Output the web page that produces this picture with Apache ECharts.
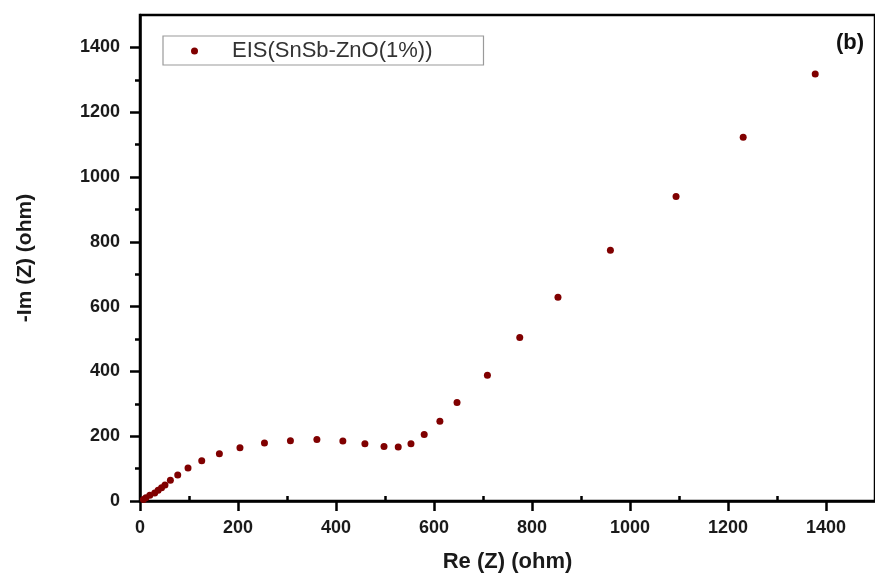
<!DOCTYPE html>
<html>
<head>
<meta charset="utf-8">
<script src="https://cdn.jsdelivr.net/npm/echarts@6/dist/echarts.min.js"></script>
<style>html,body{margin:0;padding:0;background:#fff;}#c{width:875px;height:578px;}</style>
</head>
<body>
<div id="c"></div>
<script>
// Data (Nyquist plot)
const reZ = [7, 12, 20, 30, 37, 44, 51, 62, 77, 98, 126, 162, 204, 254, 307, 361, 414, 459, 498, 527, 553, 580, 612, 647, 709, 775, 853, 960, 1094, 1231, 1378];
const imZ = [5, 10, 18, 25, 33, 41, 49, 64, 80, 102, 124, 146, 164, 179, 186, 190, 185, 177, 168, 167, 177, 205, 246, 304, 388, 505, 629, 774, 940, 1123, 1318];
const xTicks = [0, 200, 400, 600, 800, 1000, 1200, 1400];
const yTicks = [0, 200, 400, 600, 800, 1000, 1200, 1400];
const xMinorTicks = [100, 300, 500, 700, 900, 1100, 1300];
const yMinorTicks = [100, 300, 500, 700, 900, 1100, 1300];
const seriesName = 'EIS(SnSb-ZnO(1%))';
const xTitle = 'Re (Z) (ohm)';
const yTitle = '-Im (Z) (ohm)';
const panelLabel = '(b)';

const points = reZ.map((x, i) => [x, imZ[i]]);
const chart = echarts.init(document.getElementById('c'));
const FONT = 'Liberation Sans, Arial, sans-serif';
const plain = v => String(v);
const axisCommon = {
  type: 'value', min: 0, max: 1500, interval: 100,
  splitLine: { show: false }
};
chart.setOption({
  animation: false,
  backgroundColor: '#fff',
  grid: {
    left: 140, top: 15, width: 741, height: 486,
    show: true, borderColor: '#000', borderWidth: 2.5, backgroundColor: 'transparent'
  },
  legend: {
    left: 163, top: 36,
    orient: 'vertical',
    data: [{ name: seriesName, icon: 'circle' }],
    itemWidth: 7, itemHeight: 7,
    padding: [4, 51, 3, 28],
    borderColor: '#9a9a9a', borderWidth: 1.2,
    itemStyle: { opacity: 1 },
    textStyle: { fontFamily: FONT, fontSize: 22, color: '#333', lineHeight: 22, padding: [0, 0, 0, 29] }
  },
  graphic: [{
    type: 'text', left: 836, top: 32,
    style: { text: panelLabel, font: 'bold 22px ' + FONT, fill: '#111' }
  }],
  xAxis: [Object.assign({}, axisCommon, {
    name: xTitle, nameLocation: 'middle', nameGap: 50,
    nameTextStyle: { fontFamily: FONT, fontWeight: 'bold', fontSize: 22, color: '#1a1a1a' },
    axisLine: { show: true, lineStyle: { color: '#000', width: 2.5 } },
    axisTick: { show: true, inside: false, length: 10, customValues: xTicks, lineStyle: { color: '#000', width: 2.5 } },
    axisLabel: { customValues: xTicks, formatter: plain, margin: 18, fontFamily: FONT, fontWeight: 'bold', fontSize: 18, color: '#1a1a1a' }
  }), Object.assign({}, axisCommon, {
    axisLine: { show: false },
    axisTick: { show: true, length: 5, customValues: xMinorTicks, lineStyle: { color: '#000', width: 2.5 } },
    axisLabel: { show: false }
  })],
  yAxis: [Object.assign({}, axisCommon, {
    name: yTitle, nameLocation: 'middle', nameGap: 104,
    nameTextStyle: { fontFamily: FONT, fontWeight: 'bold', fontSize: 21, color: '#1a1a1a' },
    axisLine: { show: true, lineStyle: { color: '#000', width: 2.5 } },
    axisTick: { show: true, inside: false, length: 10, customValues: yTicks, lineStyle: { color: '#000', width: 2.5 } },
    axisLabel: { customValues: yTicks, formatter: plain, margin: 20, fontFamily: FONT, fontWeight: 'bold', fontSize: 18, color: '#1a1a1a' }
  }), Object.assign({}, axisCommon, {
    position: 'left',
    axisLine: { show: false },
    axisTick: { show: true, length: 5, customValues: yMinorTicks, lineStyle: { color: '#000', width: 2.5 } },
    axisLabel: { show: false }
  })],
  series: [{
    name: seriesName,
    type: 'scatter',
    xAxisIndex: 0, yAxisIndex: 0,
    data: points,
    symbol: 'circle',
    symbolSize: 7,
    itemStyle: { color: '#800000', opacity: 1 }
  }]
});
</script>
</body>
</html>
